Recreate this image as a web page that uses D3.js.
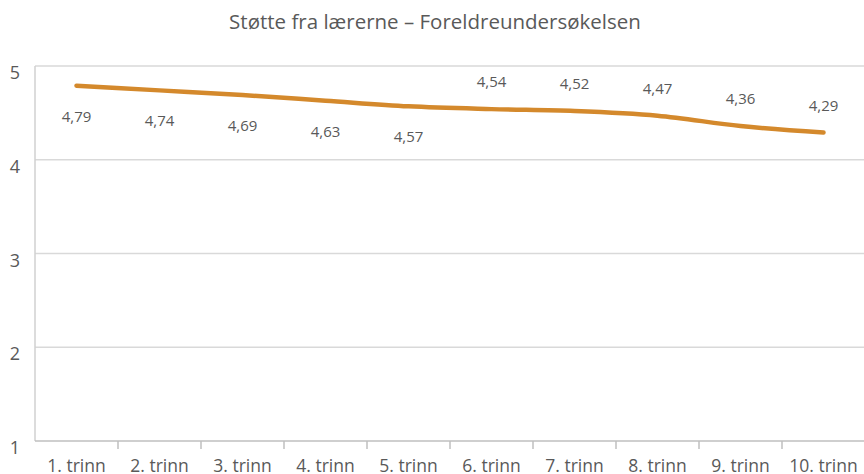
<!DOCTYPE html>
<html>
<head>
<meta charset="utf-8">
<script src="https://cdn.jsdelivr.net/npm/d3@7"></script>
<style>
  body { margin: 0; background: #fff; }
  text { font-family: "Open Sans", sans-serif; fill: #595959; }
</style>
</head>
<body>
<script>
const width = 864,
      height = 474;

const categories = ["1. trinn", "2. trinn", "3. trinn", "4. trinn", "5. trinn",
                    "6. trinn", "7. trinn", "8. trinn", "9. trinn", "10. trinn"];
const values = [4.79, 4.74, 4.69, 4.63, 4.57, 4.54, 4.52, 4.47, 4.36, 4.29];
const labelsAbove = [false, false, false, false, false, true, true, true, true, true];
const yTicks = [1, 2, 3, 4, 5];

const margin = {top: 66, right: -1, bottom: 33, left: 35};

const svg = d3.select("body")
    .append("svg")
    .attr("width", width)
    .attr("height", height);

const x = d3.scaleBand()
    .domain(categories)
    .range([margin.left, width - margin.right]);

const y = d3.scaleLinear()
    .domain([1, 5])
    .range([height - margin.bottom, margin.top]);

// title
svg.append("text")
    .attr("x", width / 2 + 3)
    .attr("y", 29)
    .attr("text-anchor", "middle")
    .style("font-size", "20.5px")
    .text("Støtte fra lærerne – Foreldreundersøkelsen");

// gridlines
svg.append("g")
    .selectAll("line")
    .data(yTicks.slice(1))
    .enter().append("line")
    .attr("x1", margin.left)
    .attr("x2", width)
    .attr("y1", d => y(d))
    .attr("y2", d => y(d))
    .attr("stroke", "#d9d9d9")
    .attr("stroke-width", 1.5);

// left axis line
svg.append("line")
    .attr("x1", margin.left)
    .attr("x2", margin.left)
    .attr("y1", y(5))
    .attr("y2", y(1))
    .attr("stroke", "#d0d0d0")
    .attr("stroke-width", 1.5);

// y labels
svg.append("g")
    .selectAll("text")
    .data(yTicks)
    .enter().append("text")
    .attr("x", 15)
    .attr("y", d => y(d) + 13)
    .attr("text-anchor", "middle")
    .style("font-size", "18px")
    .text(d => d);

// x axis
const xAxis = d3.axisBottom(x).tickSize(0).tickPadding(0);
const gx = svg.append("g")
    .attr("transform", `translate(0,${y(1)})`)
    .call(xAxis);
gx.select(".domain").remove();
gx.selectAll("text")
    .attr("dy", "31")
    .style("font-size", "17.5px")
    .style("font-family", "'Open Sans', sans-serif")
    .attr("fill", "#595959");

svg.append("line")
    .attr("x1", margin.left)
    .attr("x2", width)
    .attr("y1", y(1))
    .attr("y2", y(1))
    .attr("stroke", "#bfbfbf")
    .attr("stroke-width", 1.5);

svg.append("g")
    .selectAll("line")
    .data(categories.slice(1))
    .enter().append("line")
    .attr("x1", d => x(d))
    .attr("x2", d => x(d))
    .attr("y1", y(1))
    .attr("y2", y(1) + 8)
    .attr("stroke", "#bfbfbf")
    .attr("stroke-width", 1.5);

// line
const line = d3.line()
    .x((d, i) => x(categories[i]) + x.bandwidth() / 2)
    .y(d => y(d))
    .curve(d3.curveMonotoneX);

svg.append("path")
    .datum(values)
    .attr("fill", "none")
    .attr("stroke", "#d4892c")
    .attr("stroke-width", 4.5)
    .attr("stroke-linecap", "round")
    .attr("d", line);

// data labels
svg.append("g")
    .selectAll("text")
    .data(values)
    .enter().append("text")
    .attr("x", (d, i) => x(categories[i]) + x.bandwidth() / 2)
    .attr("y", (d, i) => labelsAbove[i] ? y(d) - 22 : y(d) + 36)
    .attr("text-anchor", "middle")
    .style("font-size", "15px")
    .text(d => d.toFixed(2).replace(".", ","));
</script>
</body>
</html>
